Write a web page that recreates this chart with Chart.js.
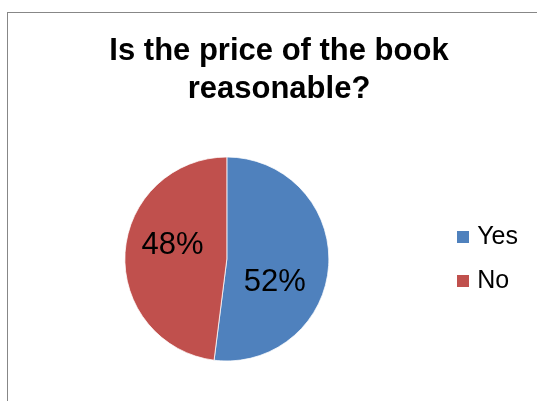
<!DOCTYPE html>
<html>
<head>
<meta charset="utf-8">
<script src="https://cdn.jsdelivr.net/npm/chart.js@4/dist/chart.umd.min.js"></script>
<style>
  html, body { margin: 0; padding: 0; background: #fff; overflow: hidden; width: 537px; height: 401px; }
  #frame { position: absolute; left: 7px; top: 12px; width: 600px; height: 450px; border: 1px solid #878787; box-sizing: border-box; }
  #wrap { position: absolute; left: 0; top: 0; width: 547px; height: 401px; }
</style>
</head>
<body>
<div id="frame"></div>
<div id="wrap"><canvas id="c" width="547" height="401"></canvas></div>
<script>
const titleLines = ['Is the price of the book', 'reasonable?'];
const categories = ['Yes', 'No'];
const values = [52, 48];
const colors = ['#4F81BD', '#C0504D'];

const total = values.reduce((a, b) => a + b, 0);
const pctLabels = values.map(v => Math.round(v / total * 100) + '%');

const FONT = "'Liberation Sans', Arial, sans-serif";
const LEGEND_BOX = 12;

function swatch(color) {
  const c = document.createElement('canvas');
  c.width = LEGEND_BOX; c.height = LEGEND_BOX;
  const g = c.getContext('2d');
  g.fillStyle = color;
  g.fillRect(0, 0, LEGEND_BOX, LEGEND_BOX);
  return c;
}
const swatches = colors.map(swatch);

const sliceLabels = {
  id: 'sliceLabels',
  afterDatasetsDraw(chart, args, opts) {
    const meta = chart.getDatasetMeta(0);
    const ctx = chart.ctx;
    ctx.save();
    ctx.font = opts.fontSize + 'px ' + FONT;
    ctx.fillStyle = '#000';
    ctx.textAlign = 'center';
    ctx.textBaseline = 'middle';
    meta.data.forEach((arc, i) => {
      const p = arc.getProps(['x', 'y', 'startAngle', 'endAngle', 'outerRadius'], true);
      const mid = (p.startAngle + p.endAngle) / 2 + opts.angleShift[i] * Math.PI / 180;
      const r = p.outerRadius * opts.radiusFraction[i];
      ctx.fillText(pctLabels[i], p.x + Math.cos(mid) * r, p.y + Math.sin(mid) * r);
    });
    ctx.restore();
  }
};

new Chart(document.getElementById('c'), {
  type: 'pie',
  data: {
    labels: categories,
    datasets: [{
      data: values,
      backgroundColor: colors,
      borderColor: '#ffffff',
      borderWidth: 0.75,
      radius: 102
    }]
  },
  options: {
    responsive: false,
    animation: false,
    layout: { padding: { left: 11, right: 0, top: 0, bottom: 0 } },
    plugins: {
      title: {
        display: true,
        text: titleLines,
        color: '#000',
        font: { family: FONT, size: 31, weight: 'bold', lineHeight: 1.21 },
        padding: { top: 33, bottom: 9 }
      },
      subtitle: {
        display: true,
        position: 'right',
        fullSize: false,
        text: '',
        font: { size: 1, lineHeight: 1 },
        padding: { top: 9, bottom: 9 }
      },
      legend: {
        position: 'right',
        fullSize: false,
        labels: {
          color: '#000',
          font: { family: FONT, size: 25 },
          usePointStyle: true,
          pointStyleWidth: 3,
          padding: 19,
          generateLabels(chart) {
            const items = Chart.controllers.pie.overrides.plugins.legend.labels.generateLabels(chart);
            items.forEach((it, i) => { it.pointStyle = swatches[i]; });
            return items;
          }
        }
      },
      tooltip: { enabled: false },
      sliceLabels: {
        fontSize: 31,
        angleShift: [22.5, 10.6],
        radiusFraction: [0.523, 0.55]
      }
    }
  },
  plugins: [sliceLabels]
});
</script>
</body>
</html>
